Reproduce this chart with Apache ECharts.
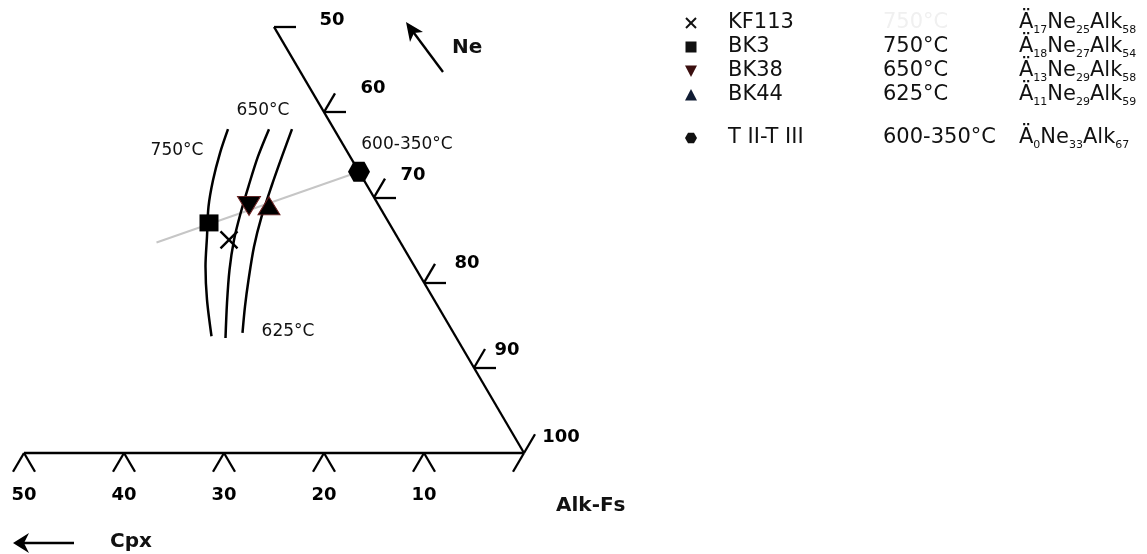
<!DOCTYPE html>
<html>
<head>
<meta charset="utf-8">
<script src="https://cdn.jsdelivr.net/npm/echarts@6/dist/echarts.min.js"></script>
<style>
  html, body { margin: 0; padding: 0; background: #fff; }
  #chart { width: 1147px; height: 554px; }
</style>
</head>
<body>
<div id="chart"></div>
<script>
// ---- Data: compositions in %, Ä (Cpx) / Ne / Alk ----
const sampleNames = ['KF113', 'BK3', 'BK38', 'BK44', 'T II-T III'];
const sampleTemps = ['750°C', '750°C', '650°C', '625°C', '600-350°C'];
const sampleCpx   = [17, 18, 13, 11, 0];
const sampleNe    = [25, 27, 29, 29, 33];
const sampleAlk   = [58, 54, 58, 59, 67];

// tick values along the two drawn triangle edges
const cpxTicks = [50, 40, 30, 20, 10, 0];      // bottom edge (Ne = 0)
const alkTicks = [50, 60, 70, 80, 90, 100];    // right edge (Ä = 0)

// isotherms, points as [Ä, Ne]
const iso750 = [[10.6, 38.0], [12.8, 35.2], [15.1, 32.0], [17.1, 28.9], [19.0, 25.4], [20.9, 21.9], [22.7, 18.0], [24.4, 13.7]];
const iso650 = [[6.5, 38.0], [9.2, 34.8], [11.9, 31.3], [14.3, 28.1], [16.5, 25.0], [18.7, 21.5], [20.9, 17.6], [23.1, 13.5]];
const iso625 = [[4.2, 38.0], [6.8, 34.8], [9.6, 31.3], [12.4, 27.7], [14.9, 24.2], [17.4, 20.3], [19.3, 17.2], [21.1, 14.1]];
const isoLabels = ['750°C', '650°C', '625°C'];
// tie line towards the T II-T III composition, [Ä, Ne]
const tieLine = [[24.4, 24.7], [0, 33]];

// ---- Layout ----
const W = 1147, H = 554;
const CORNER_PX = [524, 453];          // Alk-Fs corner on screen
const SX = 10, SY = 9.84;              // px per cartesian unit
const X_MIN = 100 - CORNER_PX[0] / SX, X_MAX = 100 + (W - CORNER_PX[0]) / SX;
const Y_MAX = CORNER_PX[1] / SY, Y_MIN = -(H - CORNER_PX[1]) / SY;
const SQ3 = Math.sqrt(3);
const TICK = 2.2;                      // tick arm length in composition units

// ternary [Ä, Ne] -> cartesian (Alk corner at x = 100, y = 0)
function tern(a, n) { return [100 - a - n / 2, n * SQ3 / 2]; }
function add(p, dx, dy) { return [p[0] + dx, p[1] + dy]; }

// frame segments: two edges plus ticks
const frame = [];
frame.push({ coords: [tern(50, 0), tern(0, 0)] });
frame.push({ coords: [tern(0, 0), tern(0, 50)] });
cpxTicks.forEach(v => {
  const p = tern(v, 0);
  frame.push({ coords: [p, add(p, -TICK / 2, -TICK * SQ3 / 2)] });
  if (v !== 0) frame.push({ coords: [p, add(p, TICK / 2, -TICK * SQ3 / 2)] });
});
alkTicks.forEach(v => {
  const p = tern(0, 100 - v);
  if (v !== 100) frame.push({ coords: [p, add(p, TICK, 0)] });
  if (v !== 50) frame.push({ coords: [p, add(p, TICK / 2, TICK * SQ3 / 2)] });
});

const alkLabelOffsets = [[58, -7], [49, -24], [39, -22], [43, -19], [33, -17], [37, -16]];

const HEX = 'path://M-10,0L-5,-8.66L5,-8.66L10,0L5,8.66L-5,8.66Z';
const CROSS = 'path://M0,0L10,10M10,0L0,10';
const markerStyle = [
  { symbol: CROSS, symbolSize: [17, 17], itemStyle: { color: 'none', borderColor: '#000', borderWidth: 2.4, opacity: 1 } },
  { symbol: 'rect', symbolSize: [19, 17], itemStyle: { color: '#000', opacity: 1 } },
  { symbol: 'triangle', symbolSize: [23, 19], symbolRotate: 180, itemStyle: { color: '#000', borderColor: '#6a1f1f', borderWidth: 1, opacity: 1 } },
  { symbol: 'triangle', symbolSize: [22, 18], itemStyle: { color: '#000', borderColor: '#6a1f1f', borderWidth: 1, opacity: 1 } },
  { symbol: HEX, symbolSize: [22, 20], itemStyle: { color: '#000', opacity: 1 } }
];

const sampleData = sampleNames.map((name, i) => Object.assign({
  name, value: tern(sampleCpx[i], sampleNe[i])
}, markerStyle[i]));

const curveSeries = (pts) => ({
  type: 'line', data: pts.map(p => tern(p[0], p[1])), smooth: 0.3,
  showSymbol: false, silent: true, z: 3,
  lineStyle: { color: '#000', width: 2.5 }
});

// ---- graphic: annotations, arrows, legend ----
const FONT = '"DejaVu Sans", Verdana, sans-serif';
const txt = (x, y, text, size, weight, align, fill) => ({
  type: 'text', x, y, silent: true,
  style: { text, font: `${weight} ${size}px ${FONT}`, fill: fill || '#111', align: align || 'left', verticalAlign: 'middle' }
});

const graphics = [];
// isotherm labels
graphics.push(txt(177, 151, isoLabels[0], 17, 'normal', 'center'));
graphics.push(txt(263, 111, isoLabels[1], 17, 'normal', 'center'));
graphics.push(txt(288, 332, isoLabels[2], 17, 'normal', 'center'));
graphics.push(txt(407, 145, sampleTemps[4], 17, 'normal', 'center'));
// corner / direction labels
graphics.push(txt(452, 48, 'Ne', 20, 'bold', 'left'));
graphics.push(txt(556, 506, 'Alk-Fs', 20, 'bold', 'left'));
graphics.push(txt(110, 542, 'Cpx', 20, 'bold', 'left'));
// Ne arrow
graphics.push({ type: 'line', silent: true, shape: { x1: 443, y1: 72, x2: 411, y2: 29 }, style: { stroke: '#000', lineWidth: 2.4 } });
graphics.push({ type: 'polygon', silent: true, shape: { points: [[406, 22], [423, 32], [414, 33], [410, 42]] }, style: { fill: '#000' } });
// Cpx arrow
graphics.push({ type: 'line', silent: true, shape: { x1: 20, y1: 543, x2: 74, y2: 543 }, style: { stroke: '#000', lineWidth: 2.4 } });
graphics.push({ type: 'polygon', silent: true, shape: { points: [[13, 543], [29, 533], [24, 543], [29, 553]] }, style: { fill: '#000' } });

// legend block
const LEG_ROWS = [23, 47, 71, 95, 138];
const LEG_X = { sym: 691, name: 728, temp: 883, comp: 1019 };
const legendTempColor = ['#f0f0f0', '#111', '#111', '#111', '#111'];
const legendSymbol = [
  (x, y) => [
    { type: 'line', silent: true, shape: { x1: x - 5, y1: y - 5, x2: x + 5, y2: y + 5 }, style: { stroke: '#111', lineWidth: 2 } },
    { type: 'line', silent: true, shape: { x1: x + 5, y1: y - 5, x2: x - 5, y2: y + 5 }, style: { stroke: '#111', lineWidth: 2 } }
  ],
  (x, y) => [{ type: 'rect', silent: true, shape: { x: x - 5.5, y: y - 5.5, width: 11, height: 11 }, style: { fill: '#111' } }],
  (x, y) => [{ type: 'polygon', silent: true, shape: { points: [[x - 6, y - 5.5], [x + 6, y - 5.5], [x, y + 6]] }, style: { fill: '#3a0f0f' } }],
  (x, y) => [{ type: 'polygon', silent: true, shape: { points: [[x - 6, y + 5.5], [x + 6, y + 5.5], [x, y - 6]] }, style: { fill: '#101c33' } }],
  (x, y) => [{ type: 'polygon', silent: true, shape: { points: [[x - 6, y], [x - 3, y - 5.2], [x + 3, y - 5.2], [x + 6, y], [x + 3, y + 5.2], [x - 3, y + 5.2]] }, style: { fill: '#111' } }]
];
sampleNames.forEach((name, i) => {
  const y = LEG_ROWS[i];
  legendSymbol[i](LEG_X.sym, y).forEach(g => graphics.push(g));
  graphics.push(txt(LEG_X.name, y, name, 21, 'normal', 'left'));
  graphics.push(txt(LEG_X.temp, y, sampleTemps[i], 21, 'normal', 'left', legendTempColor[i]));
  graphics.push({
    type: 'text', x: LEG_X.comp, y: y - 13, silent: true,
    style: {
      text: `{f|Ä}{s|${sampleCpx[i]}}{f|Ne}{s|${sampleNe[i]}}{f|Alk}{s|${sampleAlk[i]}}`,
      font: `21px ${FONT}`, fill: '#111', align: 'left', verticalAlign: 'top',
      rich: {
        f: { fontSize: 21, lineHeight: 26, verticalAlign: 'middle', fontFamily: FONT, fill: '#111' },
        s: { fontSize: 11, lineHeight: 13, verticalAlign: 'bottom', fontFamily: FONT, fill: '#111' }
      }
    }
  });
});

const chart = echarts.init(document.getElementById('chart'), null, { renderer: 'canvas' });
chart.setOption({
  animation: false,
  backgroundColor: '#ffffff',
  grid: { left: 0, right: 0, top: 0, bottom: 0 },
  xAxis: { type: 'value', min: X_MIN, max: X_MAX, show: false },
  yAxis: { type: 'value', min: Y_MIN, max: Y_MAX, show: false },
  series: [
    {
      type: 'lines', coordinateSystem: 'cartesian2d', silent: true, z: 2,
      lineStyle: { color: '#000', width: 2.3, opacity: 1 },
      data: frame
    },
    {
      // bottom edge tick labels
      type: 'scatter', silent: true, symbolSize: 0, z: 2, itemStyle: { opacity: 1 },
      data: cpxTicks.filter(v => v !== 0).map(v => ({ value: tern(v, 0), name: String(v) })),
      label: { show: true, position: 'inside', offset: [0, 42], formatter: '{b}', color: '#000', fontSize: 18, fontWeight: 'bold', fontFamily: FONT }
    },
    {
      // right edge tick labels
      type: 'scatter', silent: true, symbolSize: 0, z: 2, itemStyle: { opacity: 1 },
      data: alkTicks.map((v, i) => ({
        value: tern(0, 100 - v), name: String(v),
        label: { offset: alkLabelOffsets[i] }
      })),
      label: { show: true, position: 'inside', formatter: '{b}', color: '#000', fontSize: 18, fontWeight: 'bold', fontFamily: FONT }
    },
    curveSeries(iso750),
    curveSeries(iso650),
    curveSeries(iso625),
    {
      type: 'line', data: tieLine.map(p => tern(p[0], p[1])), showSymbol: false, silent: true, z: 2,
      lineStyle: { color: '#c6c6c6', width: 2 }
    },
    {
      type: 'scatter', silent: true, z: 5,
      data: sampleData
    }
  ],
  graphic: graphics
});
</script>
</body>
</html>
